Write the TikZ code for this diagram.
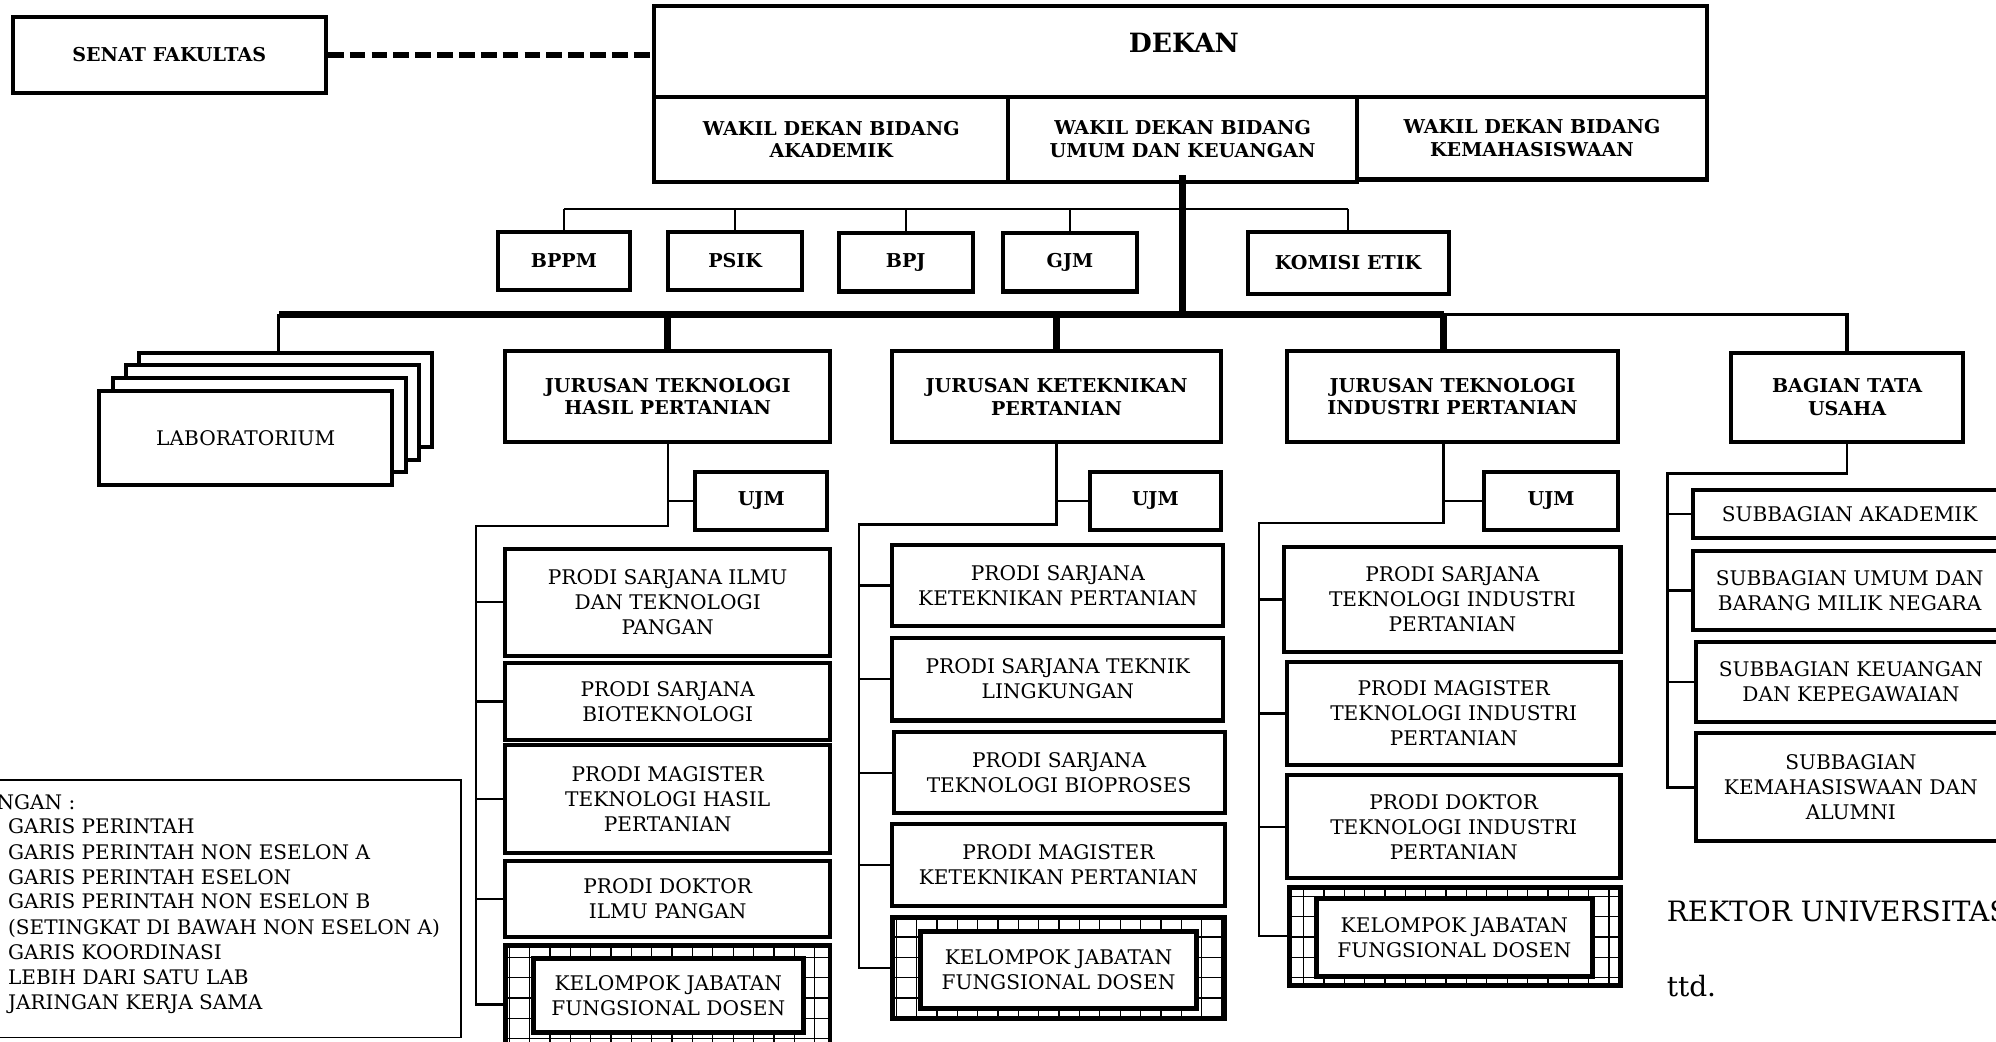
\documentclass[tikz,border=0pt]{standalone}
\usepackage{fontspec}
\setmainfont{DejaVu Serif}
\newcommand{\bx}[7]{\node[#6, minimum width={(#4-#2)*0.6pt}, minimum height={(#5-#3)*0.6pt}] (#1) at ({(#2+#4)/2},{(#3+#5)/2}) {#7};}
\tikzset{
 hb/.style={draw, line width=1.9pt, fill=white, inner sep=0pt, align=center, font=\fontsize{9}{10.8}\selectfont\bfseries},
 rb/.style={draw, line width=1.9pt, fill=white, inner sep=0pt, align=center, font=\fontsize{9.5}{11.8}\selectfont},
 gb/.style={draw, line width=2.2pt, inner sep=0pt},
 conn/.style={line width=1.1pt},
 heavy/.style={line width=3pt},
 midl/.style={line width=1.8pt},
 gridl/.style={line width=0.6pt},
 coordl/.style={line width=3pt, dash pattern=on 7.4pt off 2.9pt},
 plain/.style={font=\fontsize{9.45}{11.8}\selectfont, inner sep=0pt},
}
\begin{document}
\begin{tikzpicture}[x=0.6pt, y=-0.6pt]
\useasboundingbox (0,0) rectangle (1568,818);
\clip (0,0) rectangle (1568,818);
\fill[white] (0,0) rectangle (1568,818);

% top
\bx{senat}{10}{13}{256}{73}{hb}{SENAT FAKULTAS}
\bx{dekan}{514}{5}{1341}{76}{hb}{}
\node[font=\fontsize{12.5}{15}\selectfont\bfseries] (dekanlbl) at (930,34) {DEKAN};
\bx{wda}{514}{76}{792}{143}{hb}{WAKIL DEKAN BIDANG\\AKADEMIK}
\bx{wdu}{792}{76}{1066}{143}{hb}{WAKIL DEKAN BIDANG\\UMUM DAN KEUANGAN}
\bx{wdk}{1066}{76}{1341}{141}{hb}{WAKIL DEKAN BIDANG\\KEMAHASISWAAN}

\bx{bppm}{391}{182}{495}{228}{hb}{BPPM}
\bx{psik}{525}{182}{630}{228}{hb}{PSIK}
\bx{bpj}{659}{183}{764}{229}{hb}{BPJ}
\bx{gjm}{788}{183}{893}{229}{hb}{GJM}
\bx{komisi}{980}{182}{1138}{231}{hb}{KOMISI ETIK}

% laboratorium stack
\bx{labd}{109}{277}{339}{351}{rb}{}
\bx{labc}{99}{287}{329}{361}{rb}{}
\bx{labb}{89}{297}{319}{371}{rb}{}
\bx{lab}{78}{307}{308}{381}{rb}{LABORATORIUM}

% jurusan
\bx{jthp}{397}{276}{652}{347}{hb}{JURUSAN TEKNOLOGI\\HASIL PERTANIAN}
\bx{jkp}{701}{276}{959}{347}{hb}{JURUSAN KETEKNIKAN\\PERTANIAN}
\bx{jtip}{1011}{276}{1271}{347}{hb}{JURUSAN TEKNOLOGI\\INDUSTRI PERTANIAN}
\bx{btu}{1360}{277}{1542}{347}{hb}{BAGIAN TATA\\USAHA}

\bx{ujma}{546}{371}{650}{416}{hb}{UJM}
\bx{ujmb}{856}{371}{959}{416}{hb}{UJM}
\bx{ujmc}{1166}{371}{1271}{416}{hb}{UJM}

% column 1
\bx{pa1}{397}{431}{652}{515}{rb}{PRODI SARJANA ILMU\\DAN TEKNOLOGI\\PANGAN}
\bx{pa2}{397}{521}{652}{581}{rb}{PRODI SARJANA\\BIOTEKNOLOGI}
\bx{pa3}{397}{585}{652}{670}{rb}{PRODI MAGISTER\\TEKNOLOGI HASIL\\PERTANIAN}
\bx{pa4}{397}{676}{652}{736}{rb}{PRODI DOKTOR\\ILMU PANGAN}
\bx{kao}{397}{743}{652}{835}{gb}{}
\begin{scope}
\clip (kao.north west) rectangle (kao.south east);
\draw[gridl] (kao.north west) grid[step=9.6pt] (kao.south east);
\end{scope}
\bx{ka}{419}{753}{631}{811}{rb,line width=2.2pt}{KELOMPOK JABATAN\\FUNGSIONAL DOSEN}

% column 2
\bx{pb1}{701}{428}{961}{492}{rb}{PRODI SARJANA\\KETEKNIKAN PERTANIAN}
\bx{pb2}{701}{501}{961}{566}{rb}{PRODI SARJANA TEKNIK\\LINGKUNGAN}
\bx{pb3}{702}{575}{962}{639}{rb}{PRODI SARJANA\\TEKNOLOGI BIOPROSES}
\bx{pb4}{701}{647}{962}{712}{rb}{PRODI MAGISTER\\KETEKNIKAN PERTANIAN}
\bx{kbo}{701}{721}{962}{800}{gb}{}
\begin{scope}
\clip (kbo.north west) rectangle (kbo.south east);
\draw[gridl] (kbo.north west) grid[step=9.6pt] (kbo.south east);
\end{scope}
\bx{kb}{723}{732}{940}{792}{rb,line width=2.2pt}{KELOMPOK JABATAN\\FUNGSIONAL DOSEN}

% column 3
\bx{pc1}{1009}{430}{1273}{512}{rb}{PRODI SARJANA\\TEKNOLOGI INDUSTRI\\PERTANIAN}
\bx{pc2}{1011}{520}{1273}{601}{rb}{PRODI MAGISTER\\TEKNOLOGI INDUSTRI\\PERTANIAN}
\bx{pc3}{1011}{609}{1273}{690}{rb}{PRODI DOKTOR\\TEKNOLOGI INDUSTRI\\PERTANIAN}
\bx{kco}{1013}{697}{1273}{774}{gb}{}
\begin{scope}
\clip (kco.north west) rectangle (kco.south east);
\draw[gridl] (kco.north west) grid[step=9.6pt] (kco.south east);
\end{scope}
\bx{kc}{1034}{706}{1251}{767}{rb,line width=2.2pt}{KELOMPOK JABATAN\\FUNGSIONAL DOSEN}

% tata usaha
\bx{sa}{1330}{385}{1576}{423}{rb}{SUBBAGIAN AKADEMIK}
\bx{sb}{1330}{433}{1576}{495}{rb}{SUBBAGIAN UMUM DAN\\BARANG MILIK NEGARA}
\bx{sc}{1332}{504}{1576}{567}{rb}{SUBBAGIAN KEUANGAN\\DAN KEPEGAWAIAN}
\bx{sd}{1332}{576}{1576}{661}{rb}{SUBBAGIAN\\KEMAHASISWAAN DAN\\ALUMNI}

% connectors
\draw[coordl] (senat.east) -- (senat.east -| dekan.west);
\coordinate (bar) at (219,247);
\coordinate (barr) at (1134,247);
\coordinate (hl) at (0,164);
\draw[heavy] ([yshift=4.2pt]wdu.south) -- (wdu.south |- bar);
\draw[conn] (bppm.north |- hl) -- (komisi.north |- hl);
\foreach \n in {bppm,psik,bpj,gjm,komisi} \draw[conn] (\n.north) -- (\n.north |- hl);
\draw[heavy] (bar) -- (barr);
\draw[midl] (barr) -- (btu.north |- barr) -- (btu.north);
\draw[line width=1.4pt] (bar) -- (bar |- labd.north);
\draw[heavy] (jthp.north |- bar) -- (jthp.north);
\draw[heavy] (jkp.north |- bar) -- (jkp.north);
\draw[heavy] (barr) -- (barr |- jtip.north);

\coordinate (ca) at (374,413);
\draw[conn] (jthp.south) |- (ca) -- (ca |- kao.west) -- (kao.west);
\foreach \n in {pa1,pa2,pa3,pa4} \draw[conn] (ca |- \n.west) -- (\n.west);
\draw[conn] (ujma.west) -- (ujma.west -| jthp.south);

\coordinate (cb) at (675,412);
\draw[conn] (jkp.south) |- (cb) -- (cb |- kbo.west) -- (kbo.west);
\foreach \n in {pb1,pb2,pb3,pb4} \draw[conn] (cb |- \n.west) -- (\n.west);
\draw[conn] (ujmb.west) -- (ujmb.west -| jkp.south);

\coordinate (cc) at (989,411);
\draw[conn] (barr |- jtip.south) |- (cc) -- (cc |- kco.west) -- (kco.west);
\foreach \n in {pc1,pc2,pc3} \draw[conn] (cc |- \n.west) -- (\n.west);
\draw[conn] (ujmc.west) -- (ujmc.west -| barr);

\coordinate (cd) at (1310,372);
\draw[conn] (btu.south) |- (cd) -- (cd |- sd.west) -- (sd.west);
\foreach \n in {sa,sb,sc} \draw[conn] (cd |- \n.west) -- (\n.west);

% legend
\bx{legend}{-10}{613}{362}{815}{draw, line width=0.9pt, inner sep=0pt}{}
\node[plain, anchor=base west] (lg0) at (-3,636) {NGAN :};
\foreach \yy/\txt [count=\i] in {655/GARIS PERINTAH, 675/GARIS PERINTAH NON ESELON A, 695/GARIS PERINTAH ESELON, 714/GARIS PERINTAH NON ESELON B, 734/(SETINGKAT DI BAWAH NON ESELON A), 754/GARIS KOORDINASI, 773/LEBIH DARI SATU LAB, 793/JARINGAN KERJA SAMA}
  \node[plain, anchor=base west] (lg\i) at (6,\yy) {\txt};

% signature
\node[font=\fontsize{13.2}{15.5}\selectfont, inner sep=0pt, anchor=base west] (rektor) at (1309,724) {REKTOR UNIVERSITAS};
\node[font=\fontsize{13.2}{15.5}\selectfont, inner sep=0pt, anchor=base west] (ttd) at (1309,783) {ttd.};
\end{tikzpicture}
\end{document}
